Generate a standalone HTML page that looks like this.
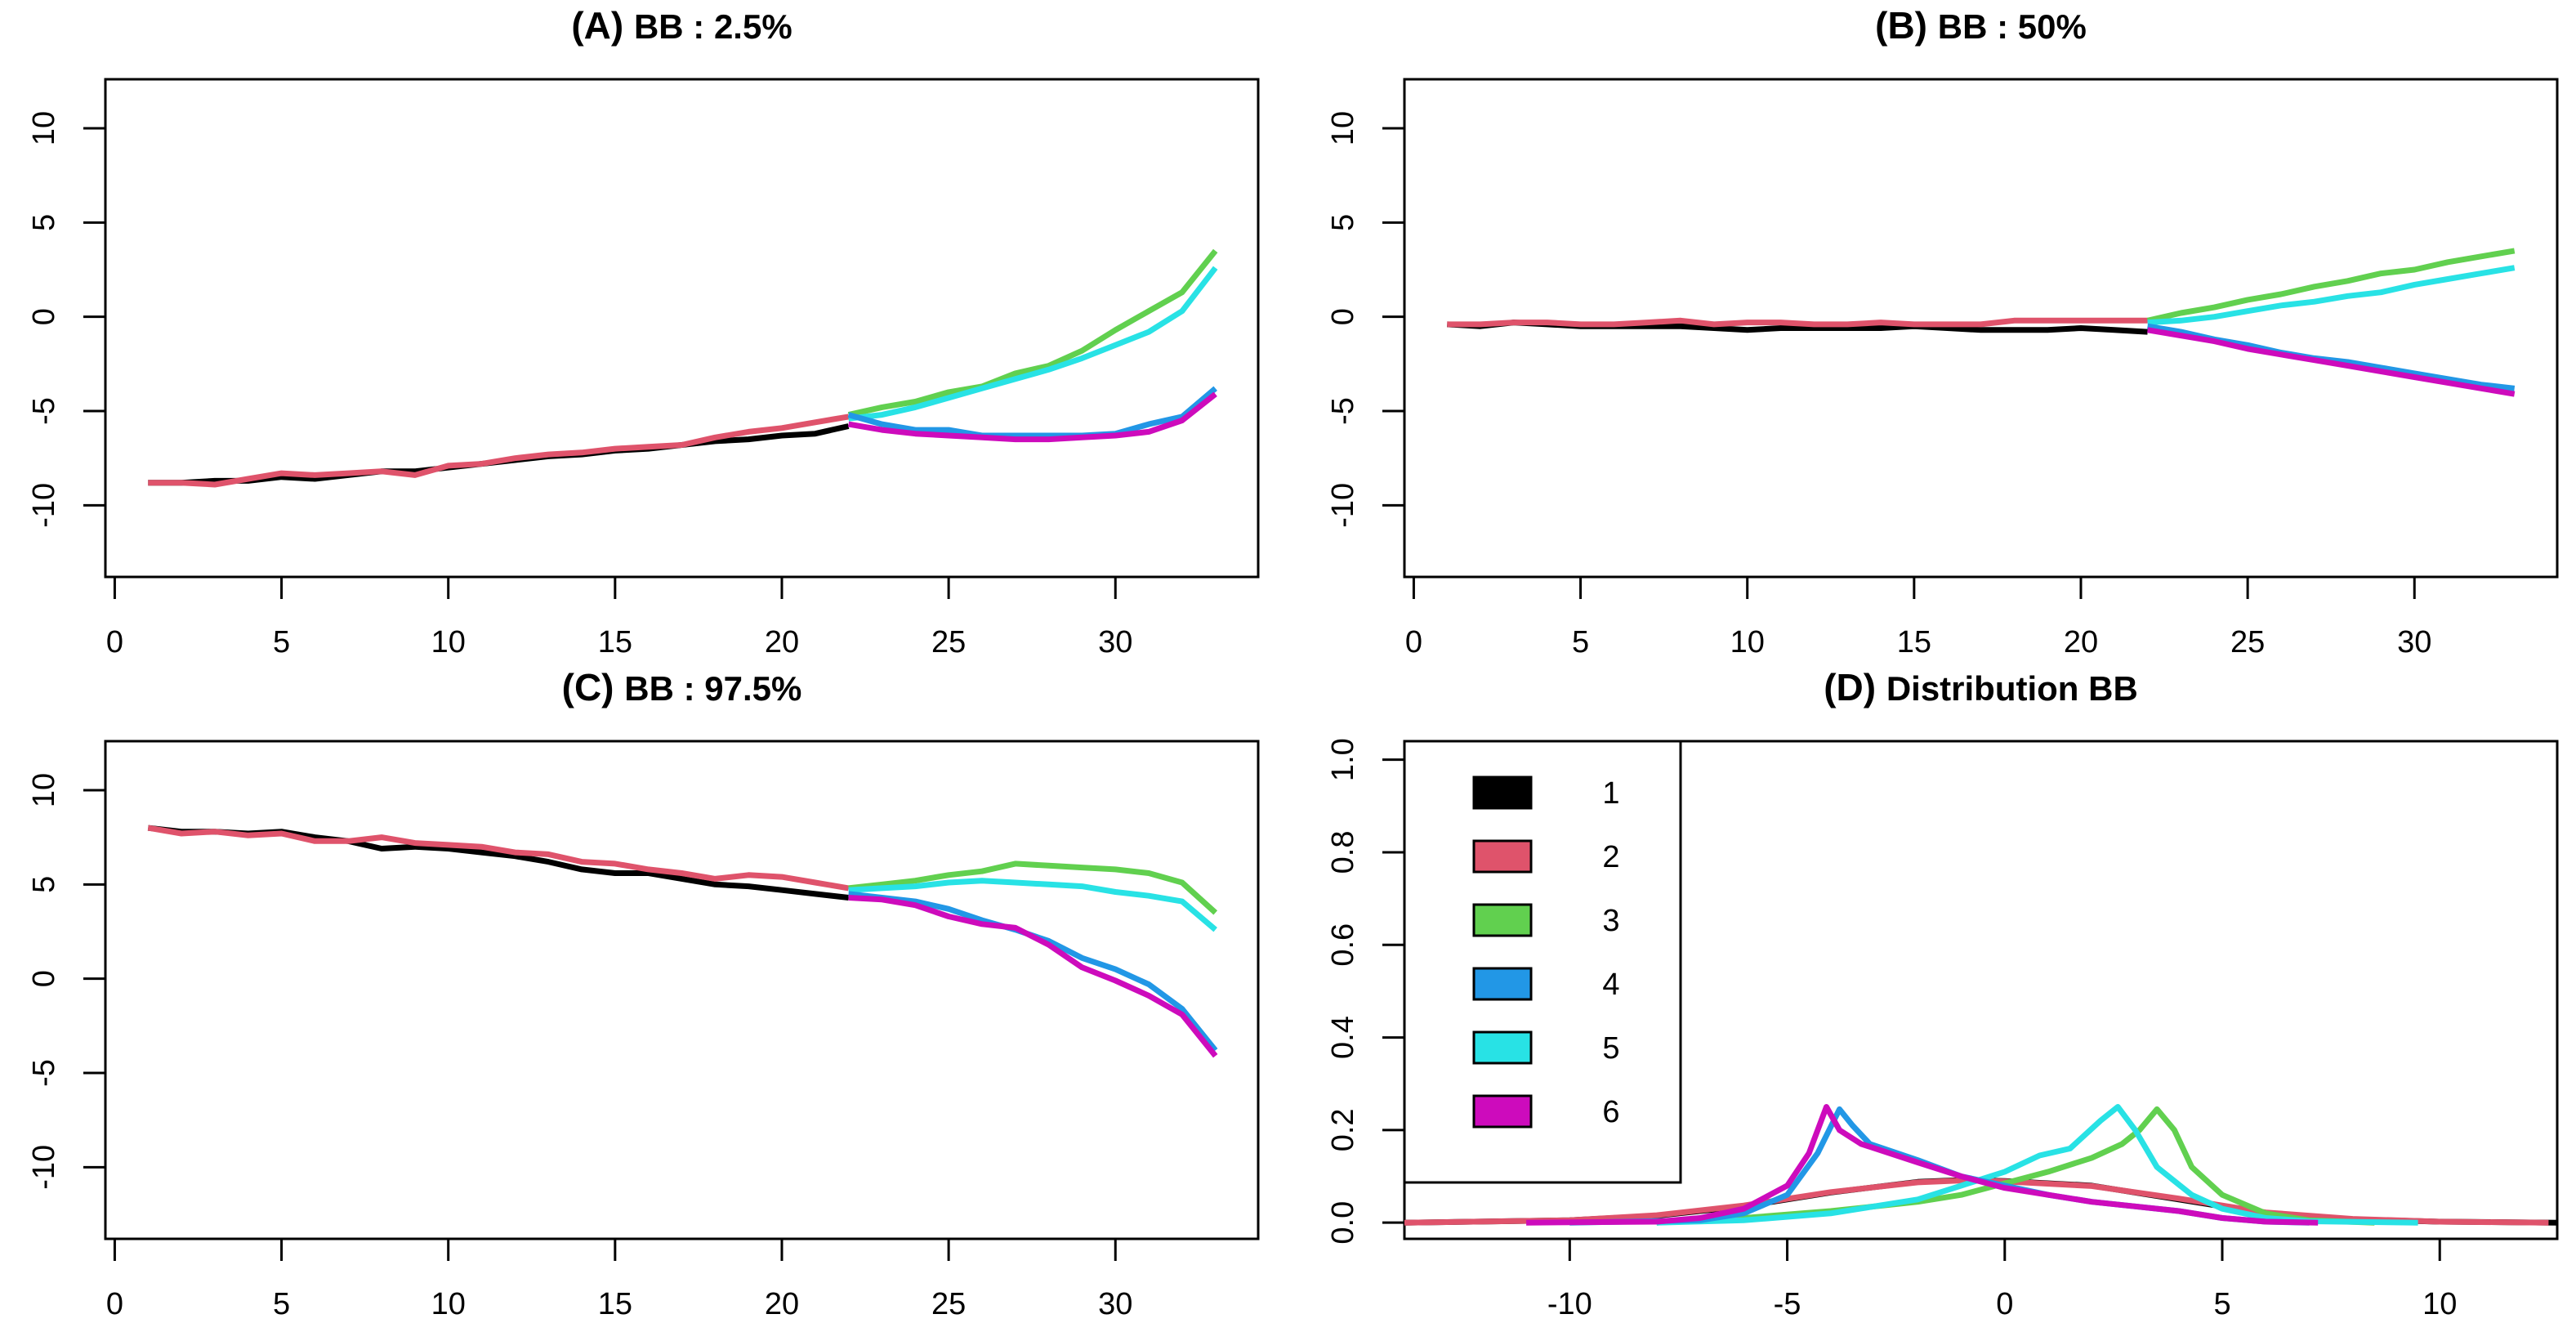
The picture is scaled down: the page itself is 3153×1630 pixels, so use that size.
<!DOCTYPE html>
<html><head><meta charset="utf-8"><style>
html,body{margin:0;padding:0;background:#fff}
svg{display:block}
text{font-family:"Liberation Sans",sans-serif}
</style></head><body>
<svg id="chart" width="3153" height="1630" viewBox="0 0 3153 1630" xmlns="http://www.w3.org/2000/svg"></svg>
<script>
const xIdx = Array.from({length:33},(_,i)=>i+1);
const xIdxLate = Array.from({length:12},(_,i)=>i+22);
const colors = ["#000000","#DF536B","#61D04F","#2297E6","#28E2E5","#CD0BBC"];
const legendLabels = ["1","2","3","4","5","6"];
const yTicksTS = [-10,-5,0,5,10];
const xTicksTS = [0,5,10,15,20,25,30];
const xTicksD = [-10,-5,0,5,10];
const yTicksD = [0,0.2,0.4,0.6,0.8,1.0];
const yTickLabelsD = ["0.0","0.2","0.4","0.6","0.8","1.0"];

// Panel A
const A_s1 = [-8.8,-8.8,-8.7,-8.7,-8.5,-8.6,-8.4,-8.2,-8.2,-8.0,-7.8,-7.6,-7.4,-7.3,-7.1,-7.0,-6.8,-6.6,-6.5,-6.3,-6.2,-5.8];
const A_s2 = [-8.8,-8.8,-8.9,-8.6,-8.3,-8.4,-8.3,-8.2,-8.4,-7.9,-7.8,-7.5,-7.3,-7.2,-7.0,-6.9,-6.8,-6.4,-6.1,-5.9,-5.6,-5.3];
const A_s3 = [-5.2,-4.8,-4.5,-4.0,-3.7,-3.0,-2.6,-1.8,-0.7,0.3,1.3,3.5];
const A_s4 = [-5.2,-5.7,-6.0,-6.0,-6.3,-6.3,-6.3,-6.3,-6.2,-5.7,-5.3,-3.8];
const A_s5 = [-5.4,-5.2,-4.8,-4.3,-3.8,-3.3,-2.8,-2.2,-1.5,-0.8,0.3,2.6];
const A_s6 = [-5.7,-6.0,-6.2,-6.3,-6.4,-6.5,-6.5,-6.4,-6.3,-6.1,-5.5,-4.1];
// Panel B
const B_s1 = [-0.4,-0.5,-0.3,-0.4,-0.5,-0.5,-0.5,-0.5,-0.6,-0.7,-0.6,-0.6,-0.6,-0.6,-0.5,-0.6,-0.7,-0.7,-0.7,-0.6,-0.7,-0.8];
const B_s2 = [-0.4,-0.4,-0.3,-0.3,-0.4,-0.4,-0.3,-0.2,-0.4,-0.3,-0.3,-0.4,-0.4,-0.3,-0.4,-0.4,-0.4,-0.2,-0.2,-0.2,-0.2,-0.2];
const B_s3 = [-0.2,0.2,0.5,0.9,1.2,1.6,1.9,2.3,2.5,2.9,3.2,3.5];
const B_s4 = [-0.5,-0.8,-1.2,-1.5,-1.9,-2.2,-2.4,-2.7,-3.0,-3.3,-3.6,-3.8];
const B_s5 = [-0.3,-0.2,0.0,0.3,0.6,0.8,1.1,1.3,1.7,2.0,2.3,2.6];
const B_s6 = [-0.7,-1.0,-1.3,-1.7,-2.0,-2.3,-2.6,-2.9,-3.2,-3.5,-3.8,-4.1];
// Panel C
const C_s1 = [8.0,7.8,7.8,7.7,7.8,7.5,7.3,6.9,7.0,6.9,6.7,6.5,6.2,5.8,5.6,5.6,5.3,5.0,4.9,4.7,4.5,4.3];
const C_s2 = [8.0,7.7,7.8,7.6,7.7,7.3,7.3,7.5,7.2,7.1,7.0,6.7,6.6,6.2,6.1,5.8,5.6,5.3,5.5,5.4,5.1,4.8];
const C_s3 = [4.8,5.0,5.2,5.5,5.7,6.1,6.0,5.9,5.8,5.6,5.1,3.5];
const C_s4 = [4.5,4.3,4.1,3.7,3.1,2.6,2.0,1.1,0.5,-0.3,-1.6,-3.8];
const C_s5 = [4.7,4.8,4.9,5.1,5.2,5.1,5.0,4.9,4.6,4.4,4.1,2.6];
const C_s6 = [4.3,4.2,3.9,3.3,2.9,2.7,1.8,0.6,-0.1,-0.9,-1.9,-4.1];
// Panel D densities
const D1_x = [-13.8,-10,-8,-6,-4,-2,-1,0,2,4,6,8,10,12.7];
const D1_y = [0,0.005,0.015,0.035,0.065,0.088,0.092,0.09,0.08,0.05,0.02,0.007,0.002,0];
const D2_x = [-13.8,-10,-8,-6,-4,-2,-1,0,2,4,6,8,10,12.5];
const D2_y = [0,0.005,0.016,0.037,0.066,0.087,0.091,0.089,0.079,0.052,0.022,0.008,0.002,0];
const D3_x = [-8,-6,-4,-2,-1,0,1,2,2.7,3.1,3.5,3.9,4.3,5,6,7,8.5];
const D3_y = [0,0.01,0.025,0.045,0.06,0.085,0.11,0.14,0.17,0.2,0.245,0.2,0.12,0.06,0.02,0.005,0];
const D4_x = [-10,-7,-6,-5,-4.3,-3.8,-3.5,-3.1,-2,-1,0,1,2,3,4,5,6,7];
const D4_y = [0,0.005,0.02,0.06,0.15,0.245,0.21,0.17,0.135,0.1,0.08,0.06,0.045,0.035,0.025,0.01,0.002,0];
const D5_x = [-8,-6,-4,-2,-1,0,0.8,1.5,2.2,2.6,3.0,3.5,4.3,5,6,7,9.5];
const D5_y = [0,0.005,0.02,0.05,0.08,0.11,0.145,0.16,0.22,0.25,0.2,0.12,0.06,0.03,0.01,0.003,0];
const D6_x = [-11,-8,-7,-6,-5,-4.5,-4.1,-3.8,-3.3,-2,-1,0,1,2,3,4,5,6,7.2];
const D6_y = [0,0.002,0.01,0.03,0.08,0.15,0.25,0.2,0.17,0.13,0.1,0.075,0.06,0.045,0.035,0.025,0.01,0.002,0];

const NS="http://www.w3.org/2000/svg";
const svg=document.getElementById('chart');
function mk(tag,attrs,parent,text){const e=document.createElementNS(NS,tag);for(const k in attrs)e.setAttribute(k,attrs[k]);if(text!==undefined)e.textContent=text;(parent||svg).appendChild(e);return e;}

function panel(col,row,title,letter,xd,yd,xt,xtl,yt,ytl){
  const g=mk('g',{});
  
  
  const L=129+col*1590, R=1540+col*1590, T=97+row*810, B=706+row*810;
  const sx=v=>L+(v-xd[0])/(xd[1]-xd[0])*(R-L);
  const sy=v=>B-(v-yd[0])/(yd[1]-yd[0])*(B-T);
  const t=mk('text',{x:(L+R)/2,y:T-50,'text-anchor':'middle','font-size':42,'font-weight':'bold'},g);
  
  
  mk('tspan',{'font-size':46},t,'('+letter+') ');
  mk('tspan',{},t,title);
  const box=mk('rect',{x:L,y:T,width:R-L,height:B-T,fill:'none',stroke:'#000','stroke-width':3},g);
  
  
  xt.forEach((v,i)=>{const x=sx(v);
    const tk=mk('line',{x1:x,x2:x,y1:B,y2:B+27,stroke:'#000','stroke-width':3},g);
    
    
    const lb=mk('text',{x:x,y:B+92,'text-anchor':'middle','font-size':38},g,xtl[i]);
    
    });
  yt.forEach((v,i)=>{const y=sy(v);
    const tk=mk('line',{x1:L-27,x2:L,y1:y,y2:y,stroke:'#000','stroke-width':3},g);
    
    
    const lb=mk('text',{x:0,y:0,'text-anchor':'middle','font-size':38,transform:`translate(${L-63},${y}) rotate(-90)`},g,ytl[i]);
    
    });
  return {g,sx,sy,L,R,T,B};
}
function series(p,xs,ys,c,name){
  const d=xs.map((x,i)=>(i?'L':'M')+p.sx(x).toFixed(1)+','+p.sy(ys[i]).toFixed(1)).join('');
  const e=mk('path',{d:d,fill:'none',stroke:c,'stroke-width':7,'stroke-linejoin':'round'},p.g);
  
  
}
const tsXd=[-0.28,34.28], tsYd=[-13.8,12.6];
const panels=[
 [0,0,'BB :  2.5%','A',[A_s1,A_s2,A_s3,A_s4,A_s5,A_s6]],
 [1,0,'BB :  50%','B',[B_s1,B_s2,B_s3,B_s4,B_s5,B_s6]],
 [0,1,'BB :  97.5%','C',[C_s1,C_s2,C_s3,C_s4,C_s5,C_s6]]];
panels.forEach(([c,r,t,l,s])=>{
  const p=panel(c,r,t,l,tsXd,tsYd,xTicksTS,xTicksTS.map(String),yTicksTS,yTicksTS.map(String));
  series(p,xIdx.slice(0,22),s[0],colors[0],'series-1-line');
  series(p,xIdx.slice(0,22),s[1],colors[1],'series-2-line');
  series(p,xIdxLate,s[2],colors[2],'series-3-line');
  series(p,xIdxLate,s[4],colors[4],'series-5-line');
  series(p,xIdxLate,s[3],colors[3],'series-4-line');
  series(p,xIdxLate,s[5],colors[5],'series-6-line');
});
// Panel D
const pd=panel(1,1,'Distribution  BB','D',[-13.8,12.7],[-0.035,1.04],xTicksD,xTicksD.map(String),yTicksD,yTickLabelsD);
const dX=[D1_x,D2_x,D3_x,D4_x,D5_x,D6_x], dY=[D1_y,D2_y,D3_y,D4_y,D5_y,D6_y];
[0,1,2,4,3,5].forEach(i=>series(pd,dX[i],dY[i],colors[i],'density-'+(i+1)));
const lg=mk('g',{},pd.g);


const lgBottom=1447;
const lgRight=pd.L+338;
mk('path',{d:`M${pd.L},${lgBottom}H${lgRight}V${pd.T}`,fill:'none',stroke:'#000','stroke-width':3},lg);
legendLabels.forEach((lab,i)=>{
  const y=970+i*78;
  const sw=mk('rect',{x:pd.L+85,y:y-19,width:70,height:38,fill:colors[i],stroke:'#000','stroke-width':3},lg);
  
  
  const tx=mk('text',{x:pd.L+253,y:y+13,'text-anchor':'middle','font-size':38},lg,lab);
  
  
});
</script>
</body></html>
